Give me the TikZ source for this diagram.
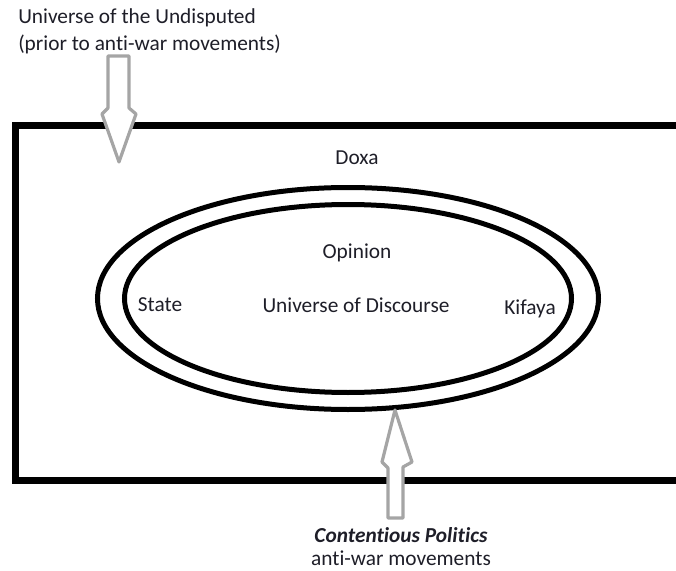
\documentclass[tikz,border=0pt]{standalone}
\usepackage{fontspec}
\setmainfont{Carlito}[Ligatures={NoCommon}]
\usepackage{xcolor}
\definecolor{textdark}{RGB}{30, 30, 40}
\definecolor{arrowgray}{RGB}{165, 165, 165}

\begin{document}
\begin{tikzpicture}[
    x=0.75pt, y=-0.75pt,
    label/.style={text=textdark, inner sep=0pt, font=\fontsize{16}{19}\selectfont},
    frame/.style={draw=black, line width=5.25pt},
    ring/.style={draw=black, line width=3.75pt},
    blockarrow/.style={draw=arrowgray, fill=white, line width=2.4pt, line join=round}
]
\useasboundingbox (0,0) rectangle (676,571);

% Doxa frame (open to the right)
\draw[frame] (690,125.5) -- (15.5,125.5) -- (15.5,480.5) -- (690,480.5);

% Universe of Discourse
\coordinate (centre) at (348,298.5);
\draw[ring] (centre) ellipse [x radius=250.5, y radius=111];
\draw[ring] (centre) ellipse [x radius=223.5, y radius=94];

% Block arrows
\draw[blockarrow] (108,56) -- (129,56) -- (129,108) -- (136,114) -- (119,162)
    -- (102,114) -- (108,108) -- cycle;
\draw[blockarrow] (388,518) -- (403,518) -- (403,467) -- (412,462) -- (395,410)
    -- (382,462) -- (388,468) -- cycle;

% Labels
\node[label, anchor=north west, align=left, font=\fontsize{16}{20.25}\selectfont] (undisputed) at (18,8)
    {Universe of the Undisputed\\(prior to anti-war movements)};
\node[label] (doxa) at (357,158) {Doxa};
\node[label] (opinion) at (357,253) {Opinion};
\node[label] (state) at (160,305) {State};
\node[label] (discourse) at (356,305) {Universe of Discourse};
\node[label] (kifaya) at (530,309) {Kifaya};
\node[label, align=center, font=\fontsize{16}{17.25}\selectfont] (contentious) at (401,547)
    {\textbf{\textit{Contentious Politics}}\\anti-war movements};

\end{tikzpicture}
\end{document}
